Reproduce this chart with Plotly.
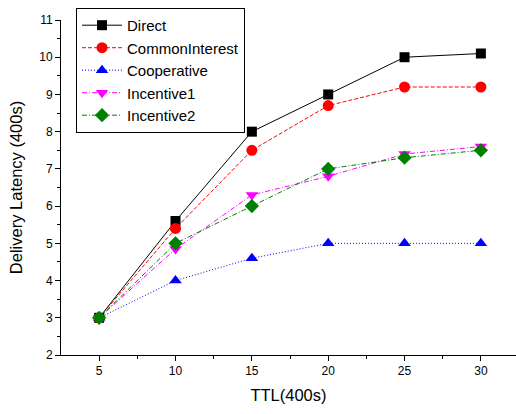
import plotly.graph_objects as go

ttl = [5, 10, 15, 20, 25, 30]
direct = [3, 5.6, 8.0, 9.0, 10.0, 10.1]
common_interest = [3, 5.4, 7.5, 8.7, 9.2, 9.2]
cooperative = [3, 4.0, 4.6, 5.0, 5.0, 5.0]
incentive1 = [3, 4.85, 6.3, 6.8, 7.4, 7.6]
incentive2 = [3, 5.0, 6.0, 7.0, 7.3, 7.5]

x_ticks = [5, 10, 15, 20, 25, 30]
y_ticks = [2, 3, 4, 5, 6, 7, 8, 9, 10, 11]

series = [
    ("Direct", direct, "black", "solid", "square", 10),
    ("CommonInterest", common_interest, "red", "4px,2px", "circle", 11),
    ("Cooperative", cooperative, "blue", "1px,2px", "triangle-up", 11),
    ("Incentive1", incentive1, "magenta", "5px,2px,1px,2px", "triangle-down", 11),
    ("Incentive2", incentive2, "green", "5px,2px,1px,2px", "diamond", 11),
]

fig = go.Figure()
for name, ys, color, dash, symbol, size in series:
    fig.add_trace(go.Scatter(
        x=ttl, y=ys, name=name, mode="lines+markers",
        line=dict(color=color, width=1, dash=dash),
        marker=dict(color=color, symbol=symbol, size=size),
    ))

axis_font = dict(family="Liberation Sans, Arial", size=12, color="black")
fig.update_layout(
    width=516, height=414,
    margin=dict(l=61, r=0, t=20, b=59),
    plot_bgcolor="white", paper_bgcolor="white",
    font=dict(family="Liberation Sans, Arial", color="black"),
    showlegend=True,
    legend=dict(
        x=0.033, y=1.036, xanchor="left", yanchor="top",
        bordercolor="black", borderwidth=1, bgcolor="white",
        font=dict(size=15), tracegroupgap=0, itemwidth=40,
    ),
    xaxis=dict(
        range=[2.5, 32.3], tickvals=x_ticks, ticks="outside", ticklen=5,
        tickcolor="black", showline=True, linecolor="black", linewidth=1,
        showgrid=False, zeroline=False, tickfont=axis_font,
        minor=dict(tickvals=[7.5, 12.5, 17.5, 22.5, 27.5, 32.5], ticks="outside", ticklen=3, tickcolor="black"),
        title=dict(text="TTL(400s)", font=dict(size=16.5), standoff=12),
    ),
    yaxis=dict(
        range=[2, 11], tickvals=y_ticks, ticks="outside", ticklen=5,
        tickcolor="black", showline=True, linecolor="black", linewidth=1,
        showgrid=False, zeroline=False, tickfont=axis_font,
        minor=dict(dtick=0.5, ticks="outside", ticklen=3, tickcolor="black"),
        title=dict(text="Delivery Latency (400s)", font=dict(size=16.5), standoff=12),
    ),
)

fig.write_html("out.html")
